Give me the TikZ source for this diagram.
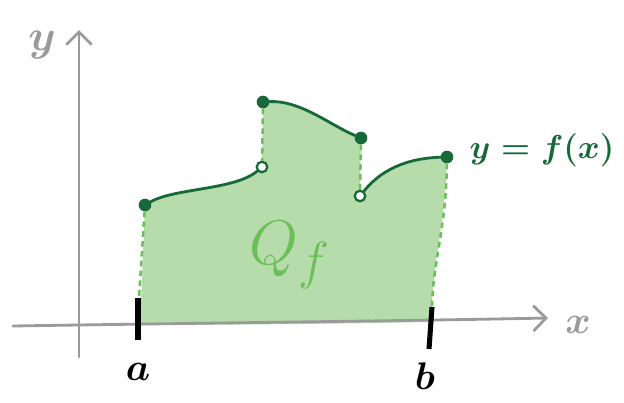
\documentclass[tikz,border=0pt]{standalone}
\usepackage{tikz}
\usetikzlibrary{positioning,arrows.meta}

\definecolor{fillgreen}{HTML}{B5DCAA}
\definecolor{darkgreen}{HTML}{17693A}
\definecolor{dashgreen}{HTML}{6BBF59}
\definecolor{axisgray}{HTML}{9A9A9A}

\begin{document}
\begin{tikzpicture}[x=0.025cm,y=-0.025cm,
  axisline/.style={line width=2pt,axisgray,line cap=round},
  fcurve/.style={line width=2pt,darkgreen,line cap=round},
  jump/.style={line width=1.8pt,dashgreen,dash pattern=on 4pt off 3pt},
  markbar/.style={line width=3.6pt,black},
  fulldot/.style={circle,fill=darkgreen,inner sep=0pt,minimum size=9pt},
  holedot/.style={circle,draw=darkgreen,fill=white,line width=1.6pt,inner sep=0pt,minimum size=7.5pt},
  lbl/.style={font=\Huge\boldmath}]
  \useasboundingbox (0,0) rectangle (624,402);

  % axes
  \coordinate (xs) at (13,326);
  \coordinate (xe) at (548,318);
  \coordinate (ys) at (79,357);
  \coordinate (ye) at (79,30);

  % area under the graph
  \fill[fillgreen] (140,325) -- (145,205) .. controls (175,188) and (235,190) .. (262,167)
    -- (263,102) .. controls (300,100) and (330,125) .. (361,138)
    -- (360,196) .. controls (385,165) and (415,158) .. (447,157)
    .. controls (445,230) and (432,260) .. (431,322) .. controls (330,324) and (200,325) .. (140,325) -- cycle;

  \draw[axisline,-{Straight Barb[length=9pt,width=18pt]}] (xs) .. controls (200,323) and (400,321) .. (xe);
  \draw[axisline,-{Straight Barb[length=9pt,width=18pt]}] (ys) -- (ye);

  \node[fulldot] (a1) at (145,205) {};
  \node[holedot] (a2) at (262,167) {};
  \node[fulldot] (b1) at (263,102) {};
  \node[fulldot] (b2) at (361,138) {};
  \node[holedot] (c1) at (360,196) {};
  \node[fulldot] (c2) at (447,157) {};
  \coordinate (abase) at (139,298);
  \coordinate (bbase) at (432,307);

  % jumps
  \draw[jump] (a1) -- (abase);
  \draw[jump] (b1) -- (a2);
  \draw[jump] (b2) -- (c1);
  \draw[jump] (c2) .. controls (446,230) and (433,260) .. (bbase);

  % graph of f
  \draw[fcurve] (a1) .. controls (175,188) and (235,190) .. (a2);
  \draw[fcurve] (b1) .. controls (300,100) and (330,125) .. (b2);
  \draw[fcurve] (c1) .. controls (385,165) and (415,158) .. (c2);

  % a and b
  \draw[markbar] (138,298) -- (138,340);
  \draw[markbar] (432,307) -- (429,349);

  \node[lbl,axisgray,scale=1.25] (ylab) at (42,45) {$y$};
  \node[lbl,axisgray,scale=1.1] (xlab) at (578,325) {$x$};
  \node[lbl,scale=1.1] (alab) at (138,372) {$a$};
  \node[lbl,scale=1.1] (blab) at (425,376) {$b$};
  \node[font=\Huge,dashgreen,scale=1.8] (qlab) at (290,255) {$Q_f$};
  \node[lbl,darkgreen,scale=0.95] (flab) at (542,150) {$y=f(x)$};
\end{tikzpicture}
\end{document}
